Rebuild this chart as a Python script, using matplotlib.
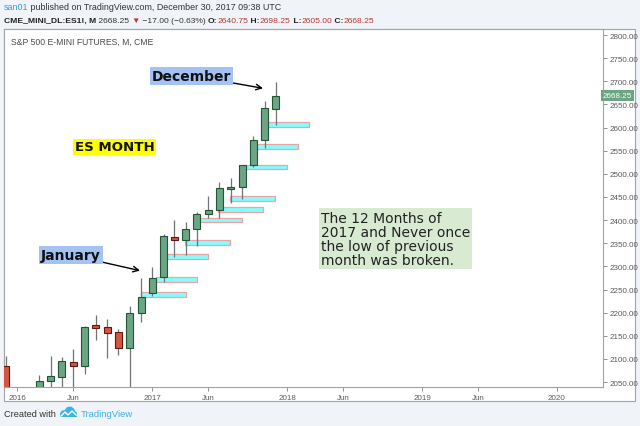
import matplotlib
matplotlib.use('Agg')
import matplotlib.pyplot as plt
import matplotlib.dates as mdates
from matplotlib.patches import Rectangle, Polygon
import pandas as pd
import numpy as np

# ---------------- data ----------------
months = ['2015-12-01', '2016-01-01', '2016-02-01', '2016-03-01', '2016-04-01', '2016-05-01',
          '2016-06-01', '2016-07-01', '2016-08-01', '2016-09-01', '2016-10-01', '2016-11-01',
          '2016-12-01', '2017-01-01', '2017-02-01', '2017-03-01', '2017-04-01', '2017-05-01',
          '2017-06-01', '2017-07-01', '2017-08-01', '2017-09-01', '2017-10-01', '2017-11-01',
          '2017-12-01']
opens  = [2085, 2035, 1930, 1927, 2053, 2060, 2093, 2085, 2173, 2169, 2159, 2123,
          2199, 2242, 2276, 2364, 2358, 2381, 2414, 2421, 2467, 2471, 2519, 2573, 2640.75]
highs  = [2107, 2040, 1947, 2065, 2106, 2105, 2121, 2172, 2194, 2186, 2164, 2215,
          2274, 2298, 2370, 2401, 2395, 2418, 2453, 2482, 2492, 2520, 2581, 2658, 2698.25]
lows   = [1990, 1804, 1802, 1917, 2033, 2025, 1991, 2067, 2141, 2103, 2108, 2028,
          2180, 2236, 2266, 2320, 2325, 2345, 2404, 2405, 2438, 2446, 2515, 2555, 2605.00]
closes = [2035, 1930, 1927, 2052, 2062, 2095, 2085, 2170, 2167, 2157, 2123, 2199,
          2233, 2275, 2365, 2358, 2381, 2413, 2421, 2469, 2471, 2519, 2573, 2642, 2668.25]

# hand-drawn "low of previous month" boxes
box_start = ['2016-12-01', '2017-01-10', '2017-02-10', '2017-03-31', '2017-05-08',
             '2017-06-28', '2017-07-30', '2017-08-31', '2017-10-01', '2017-11-02']
box_end   = ['2017-04-01', '2017-05-01', '2017-05-30', '2017-07-31', '2017-08-31',
             '2017-10-28', '2017-11-29', '2017-12-31', '2018-01-29', '2018-02-28']
box_low   = [2233, 2266, 2316, 2346, 2395, 2418, 2442, 2510, 2554, 2601]
box_high  = [2245, 2276, 2327, 2357, 2405, 2428, 2453, 2520, 2564, 2611]

price_ticks = [2050, 2100, 2150, 2200, 2250, 2300, 2350, 2400, 2450, 2500,
               2550, 2600, 2650, 2700, 2750, 2800]
time_ticks = ['2016-01-01', '2016-06-01', '2017-01-01', '2017-06-01', '2018-01-01',
              '2018-06-01', '2019-01-01', '2019-06-01', '2020-01-01']
time_labels = ['2016', 'Jun', '2017', 'Jun', '2018', 'Jun', '2019', 'Jun', '2020']
last_price = 2668.25

# ---------------- figure ----------------
W, H = 640, 427
BG = '#f0f3f7'
fig = plt.figure(figsize=(W / 100, H / 100), dpi=100, facecolor=BG)

def fx(px):
    return px / W

def fy(py):
    return 1 - py / H

SANS = ['Liberation Sans', 'DejaVu Sans']

# widget frame
fig.add_artist(Rectangle((fx(4), fy(402)), fx(635) - fx(4), fy(30) - fy(402),
                         transform=fig.transFigure, facecolor='white',
                         edgecolor='#a0a3a8', lw=0.8, zorder=0))

ax = fig.add_axes([fx(4), fy(388), fx(602.7) - fx(4), fy(30) - fy(388)])
ax.set_facecolor('white')

x = mdates.date2num(pd.to_datetime(months))
o = np.array(opens, float); h = np.array(highs, float)
l = np.array(lows, float); c = np.array(closes, float)
up = c >= o

UP_FC, UP_EC = '#6ba583', '#225437'
DN_FC, DN_EC = '#d75442', '#5b1a13'
WICK = '#737375'

# boxes
bs = mdates.date2num(pd.to_datetime(box_start))
be = mdates.date2num(pd.to_datetime(box_end))
ax.bar(bs, np.array(box_high) - np.array(box_low), width=be - bs, bottom=box_low,
       align='edge', color='#80ffff', edgecolor='#eba3a3', linewidth=0.9, zorder=2)

# wicks
ax.vlines(x, l, h, color=WICK, linewidth=0.9, zorder=3)
# bodies
bottoms = np.minimum(o, c)
heights = np.maximum(np.abs(c - o), 1.5)
ax.bar(x, heights, width=19, bottom=bottoms,
       color=np.where(up, UP_FC, DN_FC), edgecolor=np.where(up, UP_EC, DN_EC),
       linewidth=0.8, zorder=4)

ax.set_xlim(mdates.date2num(pd.Timestamp('2015-11-26')), mdates.date2num(pd.Timestamp('2020-05-04')))
ax.set_ylim(2039.3, 2813)

ax.yaxis.tick_right()
ax.set_yticks(price_ticks)
ax.set_yticklabels([f'{v:.2f}' for v in price_ticks])
ax.set_xticks(mdates.date2num(pd.to_datetime(time_ticks)))
ax.set_xticklabels(time_labels)
ax.tick_params(axis='both', direction='out', length=3, width=0.6, color='#808080',
               labelsize=5.8, labelcolor='#5a5a5a', pad=2)
for lab in ax.get_xticklabels() + ax.get_yticklabels():
    lab.set_family(SANS)
for sp in ax.spines.values():
    sp.set_color('#a0a3a8')
    sp.set_linewidth(0.8)

# last price tag
ax.text(1.0, last_price, f'{last_price:.2f}', transform=ax.get_yaxis_transform(),
        ha='left', va='center', fontsize=5.8, color='white', family=SANS,
        bbox=dict(boxstyle='square,pad=0.25', facecolor='#6ba583', edgecolor='none'),
        clip_on=False, zorder=10)

# chart title inside plot
ax.text(fx(11 - 4) / (fx(602.7) - fx(4)), 1 - (45 - 30) / 358, 'S&P 500 E-MINI FUTURES, M, CME',
        transform=ax.transAxes, ha='left', va='baseline', fontsize=6.2,
        color='#4a4a4a', family=SANS)

# annotations
lab_kw = dict(fontsize=10, fontweight='bold', family='DejaVu Sans', color='#111111',
              ha='center', va='center')
ax.annotate('December', xy=(0.4326, 0.8344), xytext=(0.3132, 0.8696),
            xycoords='axes fraction', textcoords='axes fraction',
            bbox=dict(boxstyle='square,pad=0.15', facecolor='#a4c2f4', edgecolor='none'),
            arrowprops=dict(arrowstyle='->', color='black', lw=1.0, shrinkA=0, shrinkB=0),
            zorder=8, **lab_kw)
ax.annotate('January', xy=(0.2272, 0.3249), xytext=(0.1116, 0.3687),
            xycoords='axes fraction', textcoords='axes fraction',
            bbox=dict(boxstyle='square,pad=0.15', facecolor='#a4c2f4', edgecolor='none'),
            arrowprops=dict(arrowstyle='->', color='black', lw=1.0, shrinkA=0, shrinkB=0),
            zorder=8, **lab_kw)
ax.text(0.1846, 0.6707, 'ES MONTH', transform=ax.transAxes,
        bbox=dict(boxstyle='square,pad=0.1', facecolor='#ffff00', edgecolor='none'),
        zorder=8, **dict(lab_kw, fontsize=9.6))
ax.text(0.529, 0.4148, 'The 12 Months of\n2017 and Never once\nthe low of previous\nmonth was broken.',
        transform=ax.transAxes, ha='left', va='center', fontsize=10, family='DejaVu Sans',
        color='#222222', linespacing=1.0,
        bbox=dict(boxstyle='square,pad=0.15', facecolor='#d9ead3', edgecolor='none'), zorder=8)

# ---------------- header / footer ----------------
renderer = fig.canvas.get_renderer()

def seq_text(x_px, y_px, segments, size):
    xx = x_px
    for s, col, wt in segments:
        t = fig.text(fx(xx), fy(y_px), s, color=col, fontsize=size, fontweight=wt,
                     family=SANS, va='baseline', ha='left')
        xx += t.get_window_extent(renderer).width
    return xx

RED = '#b73a33'
DARK = '#333333'
seq_text(4, 9.5, [('san01', '#2f9fd8', 'normal'),
                  (' published on TradingView.com, December 30, 2017 09:38 UTC', DARK, 'normal')], 6.4)
seq_text(4, 23, [('CME_MINI_DL:ES1!, M', '#222222', 'bold'),
                 (' 2668.25 ', DARK, 'normal'),
                 ('▼', RED, 'normal'),
                 (' −17.00 (−0.63%) ', DARK, 'normal'),
                 ('O:', '#222222', 'bold'), ('2640.75', RED, 'normal'),
                 (' H:', '#222222', 'bold'), ('2698.25', RED, 'normal'),
                 (' L:', '#222222', 'bold'), ('2605.00', RED, 'normal'),
                 (' C:', '#222222', 'bold'), ('2668.25', RED, 'normal')], 6.1)

fig.text(fx(4), fy(417), 'Created with', fontsize=6.6, color='#333333', family=SANS,
         va='baseline', ha='left')
# logo
cloud = [(60, 418), (60, 414), (62, 411.5), (65, 411), (67, 408), (71, 407.5), (74, 409.5),
         (75, 412), (77, 414), (77, 418)]
fig.add_artist(Polygon([(fx(a), fy(b)) for a, b in cloud], closed=True,
                       transform=fig.transFigure, facecolor='#3bb3e4', edgecolor='none'))
zig = [(61, 417), (65, 413), (68, 416), (72, 412), (76, 416)]
fig.add_artist(plt.Line2D([fx(a) for a, b in zig], [fy(b) for a, b in zig],
                          transform=fig.transFigure, color='white', lw=1.0))
fig.text(fx(81), fy(417), 'TradingView', fontsize=6.8, color='#3bb3e4', family=SANS,
         va='baseline', ha='left')

fig.savefig('out.png', dpi=100, facecolor=BG)
